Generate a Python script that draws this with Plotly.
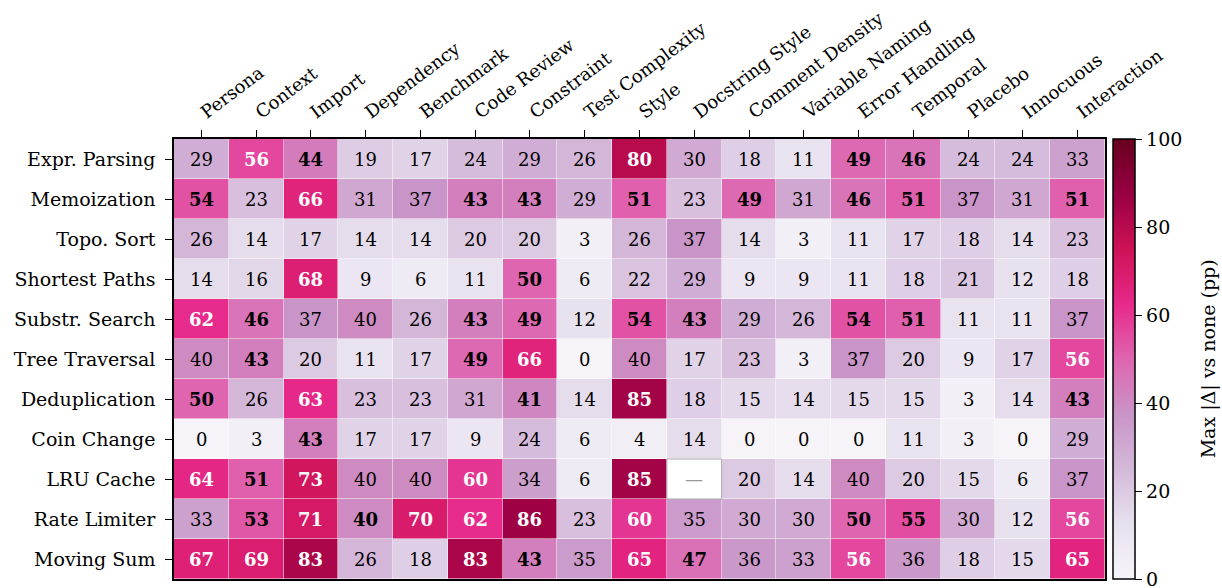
import plotly.graph_objects as go

# Column / row categories
perturbations = ["Persona", "Context", "Import", "Dependency", "Benchmark", "Code Review",
                 "Constraint", "Test Complexity", "Style", "Docstring Style", "Comment Density",
                 "Variable Naming", "Error Handling", "Temporal", "Placebo", "Innocuous",
                 "Interaction"]
tasks = ["Expr. Parsing", "Memoization", "Topo. Sort", "Shortest Paths", "Substr. Search",
         "Tree Traversal", "Deduplication", "Coin Change", "LRU Cache", "Rate Limiter",
         "Moving Sum"]

# Max |delta| vs none (pp), one list per task
expr_parsing   = [29, 56, 44, 19, 17, 24, 29, 26, 80, 30, 18, 11, 49, 46, 24, 24, 33]
memoization    = [54, 23, 66, 31, 37, 43, 43, 29, 51, 23, 49, 31, 46, 51, 37, 31, 51]
topo_sort      = [26, 14, 17, 14, 14, 20, 20, 3, 26, 37, 14, 3, 11, 17, 18, 14, 23]
shortest_paths = [14, 16, 68, 9, 6, 11, 50, 6, 22, 29, 9, 9, 11, 18, 21, 12, 18]
substr_search  = [62, 46, 37, 40, 26, 43, 49, 12, 54, 43, 29, 26, 54, 51, 11, 11, 37]
tree_traversal = [40, 43, 20, 11, 17, 49, 66, 0, 40, 17, 23, 3, 37, 20, 9, 17, 56]
deduplication  = [50, 26, 63, 23, 23, 31, 41, 14, 85, 18, 15, 14, 15, 15, 3, 14, 43]
coin_change    = [0, 3, 43, 17, 17, 9, 24, 6, 4, 14, 0, 0, 0, 11, 3, 0, 29]
lru_cache      = [64, 51, 73, 40, 40, 60, 34, 6, 85, None, 20, 14, 40, 20, 15, 6, 37]
rate_limiter   = [33, 53, 71, 40, 70, 62, 86, 23, 60, 35, 30, 30, 50, 55, 30, 12, 56]
moving_sum     = [67, 69, 83, 26, 18, 83, 43, 35, 65, 47, 36, 33, 56, 36, 18, 15, 65]

# 1 = significant (bold label)
sig_expr_parsing   = [0, 1, 1, 0, 0, 0, 0, 0, 1, 0, 0, 0, 1, 1, 0, 0, 0]
sig_memoization    = [1, 0, 1, 0, 0, 1, 1, 0, 1, 0, 1, 0, 1, 1, 0, 0, 1]
sig_topo_sort      = [0] * 17
sig_shortest_paths = [0, 0, 1, 0, 0, 0, 1, 0, 0, 0, 0, 0, 0, 0, 0, 0, 0]
sig_substr_search  = [1, 1, 0, 0, 0, 1, 1, 0, 1, 1, 0, 0, 1, 1, 0, 0, 0]
sig_tree_traversal = [0, 1, 0, 0, 0, 1, 1, 0, 0, 0, 0, 0, 0, 0, 0, 0, 1]
sig_deduplication  = [1, 0, 1, 0, 0, 0, 1, 0, 1, 0, 0, 0, 0, 0, 0, 0, 1]
sig_coin_change    = [0, 0, 1, 0, 0, 0, 0, 0, 0, 0, 0, 0, 0, 0, 0, 0, 0]
sig_lru_cache      = [1, 1, 1, 0, 0, 1, 0, 0, 1, 0, 0, 0, 0, 0, 0, 0, 0]
sig_rate_limiter   = [0, 1, 1, 1, 1, 1, 1, 0, 1, 0, 0, 0, 1, 1, 0, 0, 1]
sig_moving_sum     = [1, 1, 1, 0, 0, 1, 1, 0, 1, 1, 0, 0, 1, 0, 0, 0, 1]

z = [expr_parsing, memoization, topo_sort, shortest_paths, substr_search, tree_traversal,
     deduplication, coin_change, lru_cache, rate_limiter, moving_sum]
sig = [sig_expr_parsing, sig_memoization, sig_topo_sort, sig_shortest_paths, sig_substr_search,
       sig_tree_traversal, sig_deduplication, sig_coin_change, sig_lru_cache, sig_rate_limiter,
       sig_moving_sum]

FONT = "DejaVu Serif"

fig = go.Figure(go.Heatmap(
    z=z, x=perturbations, y=tasks,
    colorscale="PuRd", zmin=0, zmax=100,
    xgap=0.5, ygap=0.5,
    colorbar=dict(
        x=1.0086, xanchor="left", xpad=0, y=0.5, yanchor="middle", ypad=0,
        len=1.0, lenmode="fraction",
        thickness=22, outlinewidth=1.5, outlinecolor="black",
        ticks="outside", ticklen=7, tickwidth=1.2, tickcolor="black",
        ticklabeloverflow="allow",
        tickvals=[0, 20, 40, 60, 80, 100], tickfont=dict(family=FONT, size=19, color="black"),
    ),
    hoverongaps=False,
))

# colorbar title, placed by hand so it sits a bit further out
fig.add_annotation(text="Max |Δ| vs none (pp)", xref="paper", yref="paper", x=1.111, y=0.5,
                   textangle=-90, showarrow=False, xanchor="center", yanchor="middle",
                   font=dict(family=FONT, size=19, color="black"))

# Cell labels
for i, task in enumerate(tasks):
    for j, col in enumerate(perturbations):
        v = z[i][j]
        if v is None:
            fig.add_shape(type="rect", xref="x", yref="y", x0=j - 0.5, x1=j + 0.5,
                          y0=i - 0.5, y1=i + 0.5, line=dict(color="#aaaaaa", width=1),
                          fillcolor="white", layer="above")
            fig.add_annotation(x=col, y=task, text="—", showarrow=False,
                               font=dict(family=FONT, size=18, color="#999999"))
            continue
        txt = f"<b>{v}</b>" if sig[i][j] else str(v)
        color = "white" if v > 55 else "black"
        fig.add_annotation(x=col, y=task, text=txt, showarrow=False,
                           font=dict(family=FONT, size=18, color=color))

fig.update_xaxes(side="top", tickangle=-37, ticks="outside", ticklen=7, tickwidth=1.2,
                 tickcolor="black", showline=True, linewidth=1.5, linecolor="black", mirror=True,
                 tickfont=dict(family=FONT, size=18, color="black"), showgrid=False,
                 ticklabelstandoff=2, automargin=False)
fig.update_yaxes(autorange="reversed", ticks="outside", ticklen=7, tickwidth=1.2,
                 tickcolor="black", showline=True, linewidth=1.5, linecolor="black", mirror=True,
                 tickfont=dict(family=FONT, size=19, color="black"), showgrid=False,
                 ticklabelstandoff=6, automargin=False)

fig.update_layout(
    width=1222, height=588,
    margin=dict(l=174, r=117, t=139, b=9, autoexpand=False),
    paper_bgcolor="white", plot_bgcolor="white",
    font=dict(family=FONT, color="black"),
)

# drop the page's default body margin so the figure fills the window exactly
fig.write_html("out.html", config={"displayModeBar": False}, post_script=(
    "document.documentElement.style.overflow='hidden';"
    "document.body.style.margin='0';document.body.style.overflow='hidden';"
))
